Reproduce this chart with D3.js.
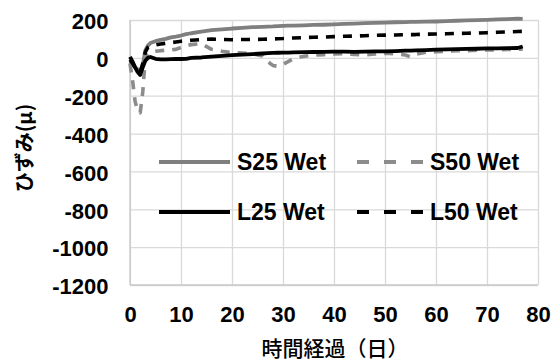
<!DOCTYPE html>
<html>
<head>
<meta charset="utf-8">
<script src="https://cdn.jsdelivr.net/npm/d3@7"></script>
<style>
  html, body { margin: 0; padding: 0; background: #fff; }
  svg { display: block; }
</style>
</head>
<body>
<div id="chart"></div>
<script>
// Elapsed time in days and measured strain (μ) for each specimen
const days = [0, 0.5, 1, 1.5, 2, 2.5, 3, 3.5, 4, 5, 6, 7, 8, 9, 10, 11, 12, 14, 16, 18, 20, 22, 24, 26, 27, 28, 29, 30, 31, 32, 34, 36, 38, 40, 42, 44, 46, 48, 50, 52, 54, 55, 56, 58, 60, 62, 64, 66, 68, 70, 72, 74, 76, 77];

const s25Wet = [-20, -35, -50, -60, -70, -40, 40, 65, 78, 88, 95, 100, 108, 112, 118, 125, 130, 138, 146, 150, 155, 158, 162, 164, 165, 166, 168, 169, 170, 170, 172, 174, 175, 177, 179, 181, 183, 185, 186, 188, 189, 190, 190, 191, 192, 194, 196, 198, 199, 201, 203, 205, 207, 206];

const s50Wet = [-30, -120, -230, -280, -290, -180, 0, 20, 30, 35, 38, 40, 42, 45, 55, 65, 70, 75, 45, 35, 28, 25, 22, 10, -20, -40, -45, -35, -20, -5, 8, 14, 17, 20, 22, 18, 16, 20, 24, 22, 15, 5, 18, 30, 32, 35, 38, 38, 40, 42, 42, 44, 45, 46];

const l25Wet = [5, -20, -50, -75, -90, -50, -15, 0, 5, -5, -8, -8, -7, -6, -6, -5, 0, 2, 6, 10, 14, 17, 20, 23, 25, 26, 27, 28, 28, 29, 30, 31, 32, 33, 33, 32, 33, 34, 34, 36, 38, 38, 39, 41, 43, 45, 46, 47, 48, 50, 50, 51, 52, 60];

const l50Wet = [-10, -30, -50, -65, -75, -30, 30, 55, 62, 68, 73, 77, 80, 84, 88, 90, 93, 97, 99, 97, 96, 97, 97, 98, 99, 100, 101, 102, 104, 105, 107, 109, 110, 112, 114, 115, 117, 119, 120, 121, 122, 123, 123, 125, 126, 127, 129, 130, 131, 133, 135, 137, 139, 140];

const seriesNames = ["S25 Wet", "S50 Wet", "L25 Wet", "L50 Wet"];
const xTicks = [0, 10, 20, 30, 40, 50, 60, 70, 80];
const yTicks = [200, 0, -200, -400, -600, -800, -1000, -1200];
const xTitle = "時間経過（日）";
const yTitle = "ひずみ(μ)";

const width = 560, height = 364;
const margin = { top: 20, right: 22, bottom: 79, left: 130 };
const plotW = width - margin.left - margin.right;
const plotH = height - margin.top - margin.bottom;

const series = [
  { name: seriesNames[0], values: s25Wet, color: "#7f7f7f", dash: null },
  { name: seriesNames[1], values: s50Wet, color: "#8c8c8c", dash: "9,8" },
  { name: seriesNames[2], values: l25Wet, color: "#000000", dash: null },
  { name: seriesNames[3], values: l50Wet, color: "#000000", dash: "9,8" }
];

const svg = d3.select("#chart").append("svg")
  .attr("width", width).attr("height", height);

const x = d3.scaleLinear().domain([0, 80]).range([0, plotW]);
const y = d3.scaleLinear().domain([-1200, 200]).range([plotH, 0]);

const g = svg.append("g").attr("transform", `translate(${margin.left},${margin.top})`);

// Gridlines
g.append("g")
  .attr("transform", `translate(0,${plotH})`)
  .call(d3.axisBottom(x).tickValues(xTicks).tickSize(-plotH).tickFormat(""))
  .call(a => a.select(".domain").remove())
  .call(a => a.selectAll("line").attr("stroke", "#d9d9d9").attr("stroke-width", 1.3));

g.append("g")
  .call(d3.axisLeft(y).tickValues(yTicks).tickSize(-plotW).tickFormat(""))
  .call(a => a.select(".domain").remove())
  .call(a => a.selectAll("line").attr("stroke", "#d9d9d9").attr("stroke-width", 1.3));

// Axis lines
g.append("line").attr("x1", 0).attr("x2", 0).attr("y1", 0).attr("y2", plotH)
  .attr("stroke", "#c8c8c8").attr("stroke-width", 1.3);
g.append("line").attr("x1", 0).attr("x2", plotW).attr("y1", plotH).attr("y2", plotH)
  .attr("stroke", "#c8c8c8").attr("stroke-width", 1.3);

// Tick labels (plain hyphen for negatives)
const tickFont = "'Liberation Sans', Arial, sans-serif";
const fmt = d => String(d);
const xAxis = g.append("g")
  .attr("transform", `translate(0,${plotH})`)
  .call(d3.axisBottom(x).tickValues(xTicks).tickSize(0).tickPadding(21).tickFormat(fmt));
xAxis.select(".domain").remove();
xAxis.selectAll("text")
  .attr("font-family", tickFont).attr("font-weight", "bold").attr("font-size", 22)
  .attr("fill", "#000");

const yAxis = g.append("g")
  .call(d3.axisLeft(y).tickValues(yTicks).tickSize(0).tickPadding(21.5).tickFormat(fmt));
yAxis.select(".domain").remove();
yAxis.selectAll("text")
  .attr("font-family", tickFont).attr("font-weight", "bold").attr("font-size", 22)
  .attr("fill", "#000").attr("dy", "0.4em");

// Data lines
const line = d3.line()
  .x((d, i) => x(days[i]))
  .y(d => y(d));

g.selectAll("path.series")
  .data(series)
  .join("path")
  .attr("class", "series")
  .attr("fill", "none")
  .attr("stroke", d => d.color)
  .attr("stroke-width", d => d.dash ? 3.6 : 3.8)
  .attr("stroke-dasharray", d => d.dash)
  .attr("stroke-linejoin", "round")
  .attr("d", d => line(d.values));

// Legend
const legendPos = [
  { lx: 159, ly: 162 },
  { lx: 357, ly: 162 },
  { lx: 159, ly: 212 },
  { lx: 357, ly: 212 }
];
const lg = svg.append("g");
series.forEach((s, i) => {
  const p = legendPos[i];
  const len = s.dash ? 66 : 71;
  lg.append("line")
    .attr("x1", p.lx).attr("x2", p.lx + len)
    .attr("y1", p.ly).attr("y2", p.ly)
    .attr("stroke", s.color)
    .attr("stroke-width", 4)
    .attr("stroke-dasharray", s.dash ? "12,15" : null);
  lg.append("text")
    .attr("x", p.lx + len + 7).attr("y", p.ly)
    .attr("dy", "0.36em")
    .attr("font-family", tickFont).attr("font-weight", "bold").attr("font-size", 23)
    .attr("fill", "#000")
    .text(s.name);
});

// Axis titles
const cjkFont = "'Noto Sans CJK JP', 'Noto Sans', sans-serif";
svg.append("text")
  .attr("x", 335).attr("y", 356)
  .attr("text-anchor", "middle")
  .attr("font-family", cjkFont).attr("font-size", 21).attr("font-weight", 500)
  .attr("fill", "#000")
  .text(xTitle);

svg.append("text")
  .attr("transform", "translate(25,148) rotate(-90)")
  .attr("text-anchor", "middle")
  .attr("dy", "0.35em")
  .attr("font-family", cjkFont).attr("font-size", 20).attr("font-weight", "bold")
  .attr("fill", "#000")
  .text(yTitle);
</script>
</body>
</html>
